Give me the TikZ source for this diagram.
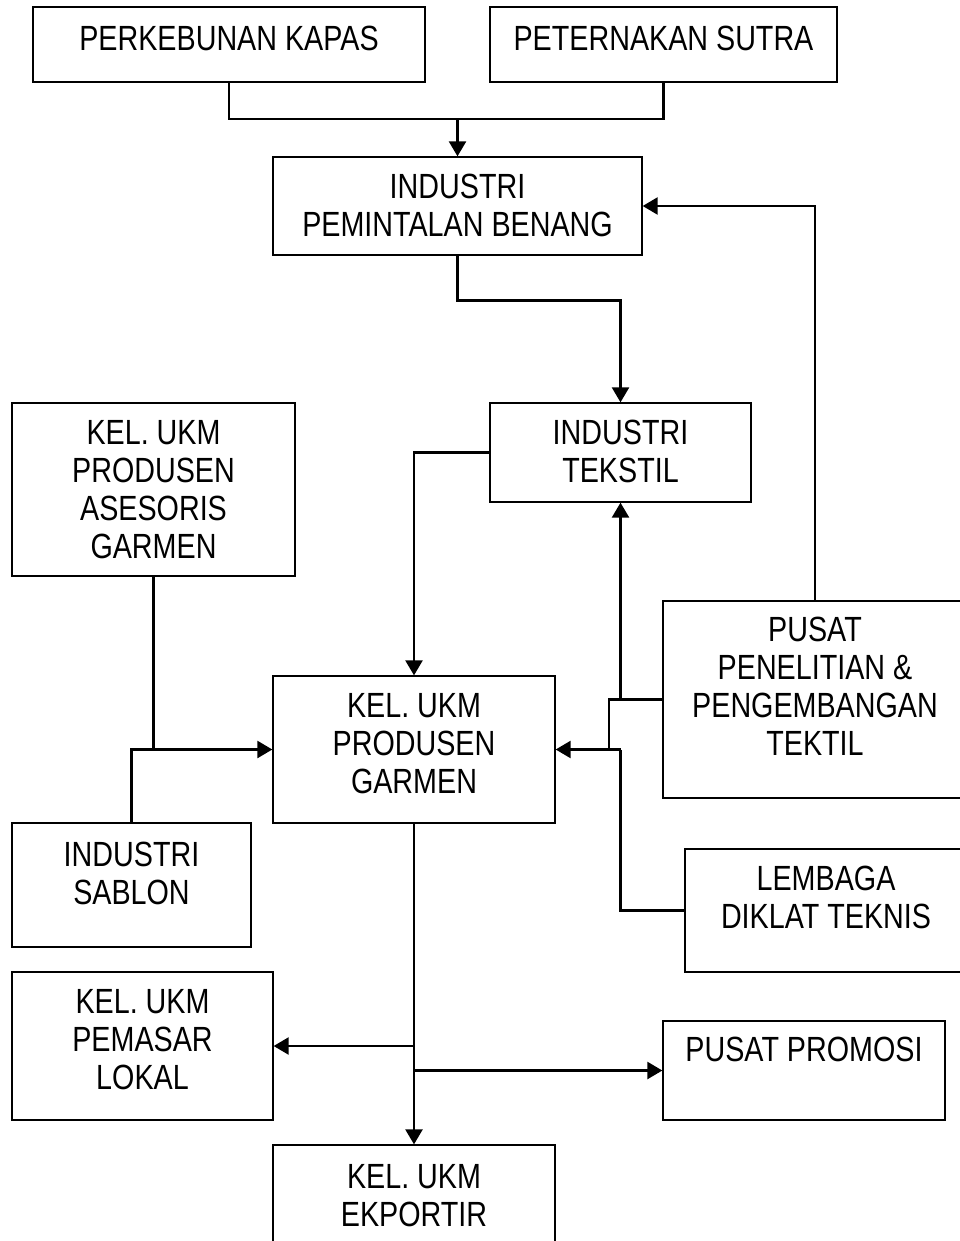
\documentclass[tikz,border=0pt]{standalone}
\usepackage{fontspec}
\setmainfont[FakeStretch=0.82]{Liberation Sans}
\usetikzlibrary{arrows.meta,calc}
\tikzset{
  boxst/.style={draw=black, line width=1.3pt, rectangle, inner sep=0pt},
  txt/.style={anchor=north, inner sep=0pt, align=center, font=\fontsize{35}{38}\selectfont},
  line/.style={draw=black, line width=2.4pt},
  arr/.style={line, -{Triangle[length=15pt,width=17pt]}}
}
\newcommand{\bx}[7]{%
  \pgfmathsetmacro\bw{#4-#2}\pgfmathsetmacro\bh{#5-#3}%
  \node[boxst, minimum width=\bw pt, minimum height=\bh pt] (#1) at ({(#2+#4)/2},{(#3+#5)/2}) {};
  \node[txt] (#1-t) at ([yshift=-#6pt]#1.north) {#7};}
\begin{document}
\begin{tikzpicture}[x=1pt,y=-1pt]
\useasboundingbox (0,0) rectangle (960,1241);
\fill[white] (0,0) rectangle (960,1241);
\bx{kapas}{33}{7}{425}{82}{20}{PERKEBUNAN KAPAS}
\bx{sutra}{490}{7}{837}{82}{20}{PETERNAKAN SUTRA}
\bx{pemint}{273}{157}{642}{255}{18}{INDUSTRI\\PEMINTALAN BENANG}
\bx{tekstil}{490}{403}{751}{502}{18}{INDUSTRI\\TEKSTIL}
\bx{asesoris}{12}{403}{295}{576}{18}{KEL. UKM\\PRODUSEN\\ASESORIS\\GARMEN}
\bx{garmen}{273}{676}{555}{823}{18}{KEL. UKM\\PRODUSEN\\GARMEN}
\bx{pusat}{663}{601}{967}{798}{17}{PUSAT\\PENELITIAN \&\\PENGEMBANGAN\\TEKTIL}
\bx{sablon}{12}{823}{251}{947}{20}{INDUSTRI\\SABLON}
\bx{lembaga}{685}{849}{967}{972}{18}{LEMBAGA\\DIKLAT TEKNIS}
\bx{pemasar}{12}{972}{273}{1120}{18}{KEL. UKM\\PEMASAR\\LOKAL}
\bx{promosi}{663}{1021}{945}{1120}{16}{PUSAT PROMOSI}
\bx{ekportir}{273}{1145}{555}{1255}{20}{KEL. UKM\\EKPORTIR}
% top merge
\coordinate (j1) at (pemint.north |- 0,119);
\draw[line] (kapas.south) |- (j1);
\draw[line] (sutra.south) |- (j1);
\draw[arr] (j1) -- (pemint.north);
% research feedback to spinning
\draw[arr] (pusat.north) |- (pemint.east);
% spinning to textile
\draw[arr] (pemint.south) -- ++(0,45) -| (tekstil.north);
% textile to garment
\draw[arr] (tekstil.west) -| (garmen.north);
% accessories and sablon to garment
\draw[arr] (asesoris.south) |- (garmen.west);
\draw[line] (sablon.north) |- (asesoris.south |- garmen.west);
% research to textile and garment
\coordinate (j3) at (609,0);
\draw[line] (pusat.west) -- (j3 |- pusat.west) -- (j3 |- garmen.east);
\draw[arr] (tekstil.south |- pusat.west) -- (tekstil.south);
\draw[line] (lembaga.west) -| (tekstil.south |- garmen.east);
\draw[arr] (tekstil.south |- garmen.east) -- (garmen.east);
% garment outputs
\draw[arr] (garmen.south) -- (ekportir.north);
\draw[arr] (garmen.south |- pemasar.east) -- (pemasar.east);
\draw[arr] (garmen.south |- promosi.west) -- (promosi.west);
\end{tikzpicture}
\end{document}
